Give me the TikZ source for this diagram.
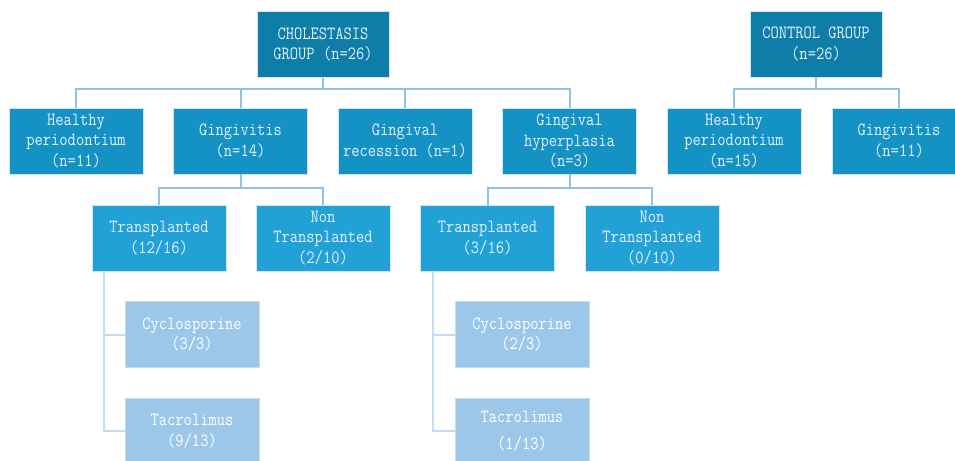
\documentclass[tikz,border=0pt]{standalone}
\usepackage{fontspec}
\newfontfamily\boxfont[FakeStretch=0.86]{Latin Modern Mono}
\definecolor{lvA}{HTML}{0E7DA8}
\definecolor{lvB}{HTML}{1592C4}
\definecolor{lvC}{HTML}{22A1D7}
\definecolor{lvD}{HTML}{9CC7E8}
\definecolor{lnA}{HTML}{8EC1E6}
\definecolor{lnD}{HTML}{C6DDF1}
\definecolor{txt}{HTML}{E6F0F6}
\begin{document}
\begin{tikzpicture}[x=0.75pt,y=-0.75pt,
  box/.style={rectangle,minimum width=134*0.75pt,minimum height=66*0.75pt,inner sep=0pt,
    align=center,text=txt,draw=white!60!lnA,line width=0.4pt,
    font=\boxfont\fontsize{14}{15.4}\selectfont},
  bA/.style={box,fill=lvA},
  bB/.style={box,fill=lvB},
  bC/.style={box,fill=lvC},
  bD/.style={box,fill=lvD,text=white,draw=white!40!lvD},
  conn/.style={draw=lnA,line width=1.5pt},
  connL/.style={draw=lnD,line width=1.5pt}]
\useasboundingbox (0,0) rectangle (955,460);
% top
\node[bA,minimum width=132*0.75pt] (chol) at (323,44.5) {CHOLESTASIS\\GROUP (n=26)};
\node[bA,minimum width=132*0.75pt] (ctrl) at (816,44) {CONTROL GROUP\\(n=26)};
% level 2
\node[bB] (hp) at (76,141) {Healthy\\periodontium\\(n=11)};
\node[bB] (gi) at (240.5,141) {Gingivitis\\(n=14)};
\node[bB] (gr) at (405,141) {Gingival\\recession (n=1)};
\node[bB] (gh) at (569.5,141) {Gingival\\hyperplasia\\(n=3)};
\node[bB] (chp) at (734,141) {Healthy\\periodontium\\(n=15)};
\node[bB] (cgi) at (899,141) {Gingivitis\\(n=11)};
% level 3
\node[bC] (t1) at (159,238) {Transplanted\\(12/16)};
\node[bC] (n1) at (323,238) {Non\\Transplanted\\(2/10)};
\node[bC] (t2) at (487.5,238) {Transplanted\\(3/16)};
\node[bC] (n2) at (652,238) {Non\\Transplanted\\(0/10)};
% level 4
\node[bD] (c1) at (192,334.5) {Cyclosporine\\(3/3)};
\node[bD] (k1) at (192,431) {Tacrolimus\\(9/13)};
\node[bD] (c2) at (522,334.5) {Cyclosporine\\(2/3)};
\node[bD] (k2) at (522,431) {Tacrolimus\\[5pt](1/13)};
% connectors
\coordinate (j0) at (323,89);
\draw[conn] (chol.south) -- (j0);
\foreach \n in {hp,gi,gr,gh}{\draw[conn] (j0) -| (\n.north);}
\coordinate (j1) at (816,89);
\draw[conn] (ctrl.south) -- (j1);
\foreach \n in {chp,cgi}{\draw[conn] (j1) -| (\n.north);}
\coordinate (j2) at (240.5,188);
\draw[conn] (gi.south) -- (j2);
\foreach \n in {t1,n1}{\draw[conn] (j2) -| (\n.north);}
\coordinate (j3) at (569.5,188);
\draw[conn] (gh.south) -- (j3);
\foreach \n in {t2,n2}{\draw[conn] (j3) -| (\n.north);}
\coordinate (v1) at (104,0);
\draw[connL] (t1.south -| v1) |- (c1.west);
\draw[connL] (t1.south -| v1) |- (k1.west);
\coordinate (v2) at (433,0);
\draw[connL] (t2.south -| v2) |- (c2.west);
\draw[connL] (t2.south -| v2) |- (k2.west);
\end{tikzpicture}
\end{document}
